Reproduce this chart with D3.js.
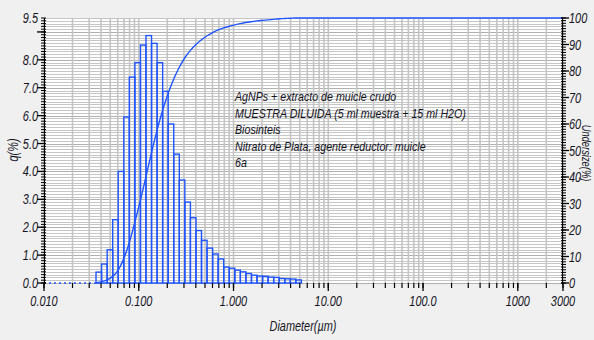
<!DOCTYPE html>
<html>
<head>
<meta charset="utf-8">
<script src="https://cdn.jsdelivr.net/npm/d3@7"></script>
<style>
  html, body { margin: 0; padding: 0; background: #f0f0f0; }
  svg { display: block; }
  text { font-family: "Liberation Sans", Arial, sans-serif; font-style: italic; fill: #14141e; }
</style>
</head>
<body>
<div id="chart"></div>
<script>
// bin edges (um)
var binEdges = [0.0354, 0.0405, 0.0464, 0.0531, 0.0607, 0.0695, 0.0795, 0.0910, 0.1042, 0.1192,
  0.1364, 0.1561, 0.1787, 0.2045, 0.2340, 0.2678, 0.3065, 0.3507, 0.4014, 0.4593,
  0.5257, 0.6016, 0.6885, 0.7879, 0.9017, 1.032, 1.181, 1.351, 1.547, 1.770,
  2.026, 2.318, 2.653, 3.036, 3.474, 3.976, 4.550, 5.207];

// q(%) per bin
var qValues = [0.39, 0.68, 1.19, 2.27, 4.00, 5.95, 7.38, 7.90, 8.53, 8.87,
  8.59, 7.90, 6.87, 5.70, 4.62, 3.69, 2.90, 2.34, 1.88, 1.53,
  1.25, 1.04, 0.86, 0.57, 0.53, 0.46, 0.40, 0.34, 0.28, 0.25,
  0.24, 0.21, 0.20, 0.16, 0.15, 0.14, 0.11];

// undersize (%) at each bin edge
var undersize = [0, 0.5, 1.2, 2.5, 4.9, 9.2, 15.3, 23.0, 31.3, 40.2,
  49.2, 57.7, 65.2, 71.6, 77.0, 81.4, 85.0, 87.8, 90.0, 91.8,
  93.3, 94.5, 95.5, 96.3, 96.9, 97.4, 97.9, 98.3, 98.6, 98.9,
  99.1, 99.3, 99.5, 99.7, 99.8, 99.9, 100, 100];

var xTickValues = [0.01, 0.1, 1, 10, 100, 1000, 3000];
var xTickLabels = ["0.010", "0.100", "1.000", "10.00", "100.0", "1000", "3000"];
var qTickValues = [0, 1, 2, 3, 4, 5, 6, 7, 8, 9.5];
var qTickLabels = ["0.0", "1.0", "2.0", "3.0", "4.0", "5.0", "6.0", "7.0", "8.0", "9.5"];
var uTickValues = [0, 10, 20, 30, 40, 50, 60, 70, 80, 90, 100];

var notes = ["AgNPs + extracto de muicle crudo",
  "MUESTRA DILUIDA (5 ml muestra + 15 ml H2O)",
  "Biosinteis",
  "Nitrato de Plata, agente reductor: muicle",
  "6a"];

var svgWidth = 594;
var svgHeight = 340;
var margin = { top: 18, bottom: 57, left: 44, right: 31 };
var width = svgWidth - margin.left - margin.right;
var height = svgHeight - margin.top - margin.bottom;
var blue = "#1f55ff";

var svg = d3.select("#chart")
  .append("svg")
  .attr("width", svgWidth)
  .attr("height", svgHeight);

var chartGroup = svg.append("g")
  .attr("transform", `translate(${margin.left}, ${margin.top})`);

var x = d3.scaleLog().domain([0.01, 3000]).range([0, width]);
var yq = d3.scaleLinear().domain([0, 9.5]).range([height, 0]);
var yu = d3.scaleLinear().domain([0, 100]).range([height, 0]);

chartGroup.append("rect")
  .attr("width", width)
  .attr("height", height)
  .attr("fill", "#ffffff");

// horizontal grid, every 0.1 of q
var hGrid = d3.range(0, 96).map(d => d / 10);
chartGroup.append("g").selectAll("line")
  .data(hGrid)
  .enter()
  .append("line")
  .attr("x1", 0)
  .attr("x2", width)
  .attr("y1", d => Math.round(yq(d)) + 0.5)
  .attr("y2", d => Math.round(yq(d)) + 0.5)
  .attr("stroke", (d, i) => i % 10 == 0 ? "#b0b0b0" : "#c6c6c6")
  .attr("stroke-width", 1.2);

// vertical grid, log minor positions
var vGrid = [];
[0.01, 0.1, 1, 10, 100, 1000].forEach(function(dec) {
  for (var k = 1; k < 10; k++) {
    if (dec * k <= 3000) vGrid.push(dec * k);
  }
});
chartGroup.append("g").selectAll("line")
  .data(vGrid)
  .enter()
  .append("line")
  .attr("x1", d => x(d))
  .attr("x2", d => x(d))
  .attr("y1", 0)
  .attr("y2", height)
  .attr("stroke", "#c4c4c4")
  .attr("stroke-width", 1.6);

// histogram
chartGroup.append("g").selectAll("rect")
  .data(qValues)
  .enter()
  .append("rect")
  .attr("x", (d, i) => x(binEdges[i]))
  .attr("width", (d, i) => x(binEdges[i + 1]) - x(binEdges[i]))
  .attr("y", d => yq(d))
  .attr("height", d => height - yq(d))
  .attr("fill", "none")
  .attr("stroke", blue)
  .attr("stroke-width", 1.4);

// undersize curve
var curvePts = binEdges.map((d, i) => [d, undersize[i]]);
curvePts.push([3000, 100]);
chartGroup.append("path")
  .datum(curvePts)
  .attr("fill", "none")
  .attr("stroke", blue)
  .attr("stroke-width", 1.4)
  .attr("d", d3.line()
    .x(d => x(d[0]))
    .y(d => yu(d[1]))
    .curve(d3.curveMonotoneX));

chartGroup.append("line")
  .attr("x1", x(0.01))
  .attr("x2", x(binEdges[0]))
  .attr("y1", height)
  .attr("y2", height)
  .attr("stroke", blue)
  .attr("stroke-width", 1.4)
  .attr("stroke-dasharray", "2,3");

// squeezed text helper (the original font is narrow)
function label(g, px, py, str, size, anchor, rot, sx) {
  return g.append("text")
    .attr("transform", `translate(${px}, ${py}) rotate(${rot || 0}) scale(${sx || 0.78}, 1)`)
    .attr("text-anchor", anchor || "start")
    .attr("font-size", size + "px")
    .text(str);
}

// left axis
var qMinor = d3.range(0, 96).map(d => d / 10);
var leftAxis = chartGroup.append("g");
leftAxis.append("line")
  .attr("x1", 0.5).attr("x2", 0.5)
  .attr("y1", 0).attr("y2", height)
  .attr("stroke", "#000");
leftAxis.selectAll(".minor")
  .data(qMinor)
  .enter()
  .append("line")
  .attr("x1", -3).attr("x2", 2)
  .attr("y1", d => yq(d)).attr("y2", d => yq(d))
  .attr("stroke", "#000");
leftAxis.selectAll(".major")
  .data(d3.range(0, 10))
  .enter()
  .append("line")
  .attr("x1", -7).attr("x2", 2)
  .attr("y1", d => yq(d)).attr("y2", d => yq(d))
  .attr("stroke", "#000")
  .attr("stroke-width", 1.3);
qTickValues.forEach(function(v, i) {
  label(leftAxis, -6, yq(v) + 5, qTickLabels[i], 14, "end");
});

// right axis
var rightAxis = chartGroup.append("g")
  .attr("transform", `translate(${width}, 0)`);
rightAxis.append("line")
  .attr("x1", -0.5).attr("x2", -0.5)
  .attr("y1", 0).attr("y2", height)
  .attr("stroke", "#000");
rightAxis.selectAll(".minor")
  .data(d3.range(0, 101))
  .enter()
  .append("line")
  .attr("x1", -2).attr("x2", 3)
  .attr("y1", d => yu(d)).attr("y2", d => yu(d))
  .attr("stroke", "#000");
rightAxis.selectAll(".major")
  .data(uTickValues)
  .enter()
  .append("line")
  .attr("x1", -2).attr("x2", 6)
  .attr("y1", d => yu(d)).attr("y2", d => yu(d))
  .attr("stroke", "#000")
  .attr("stroke-width", 1.3);
uTickValues.forEach(function(v) {
  label(rightAxis, 6, yu(v) + 5, String(v), 14, "start");
});

// bottom axis
var bottomAxis = chartGroup.append("g")
  .attr("transform", `translate(0, ${height})`);
bottomAxis.selectAll(".minor")
  .data(vGrid)
  .enter()
  .append("line")
  .attr("x1", d => x(d)).attr("x2", d => x(d))
  .attr("y1", 0).attr("y2", 5)
  .attr("stroke", "#000")
  .attr("stroke-width", 1.2);
bottomAxis.selectAll(".major")
  .data(xTickValues)
  .enter()
  .append("line")
  .attr("x1", d => x(d)).attr("x2", d => x(d))
  .attr("y1", 0).attr("y2", 8)
  .attr("stroke", "#000")
  .attr("stroke-width", 1.3);
xTickValues.forEach(function(v, i) {
  label(bottomAxis, x(v), 23, xTickLabels[i], 14, "middle");
});

// axis titles
label(chartGroup, 303 - margin.left, height + 48, "Diameter(\u00b5m)", 14, "middle");
label(chartGroup, 18 - margin.left, 150 - margin.top, "q(%)", 14, "middle", -90);
label(chartGroup, 582 - margin.left, 153 - margin.top, "Undersize(%)", 12, "middle", 90);

// sample notes
notes.forEach(function(n, i) {
  label(chartGroup, 235 - margin.left, 101 - margin.top + i * 16.5, n, 13, "start", 0, 0.82);
});
</script>
</body>
</html>
